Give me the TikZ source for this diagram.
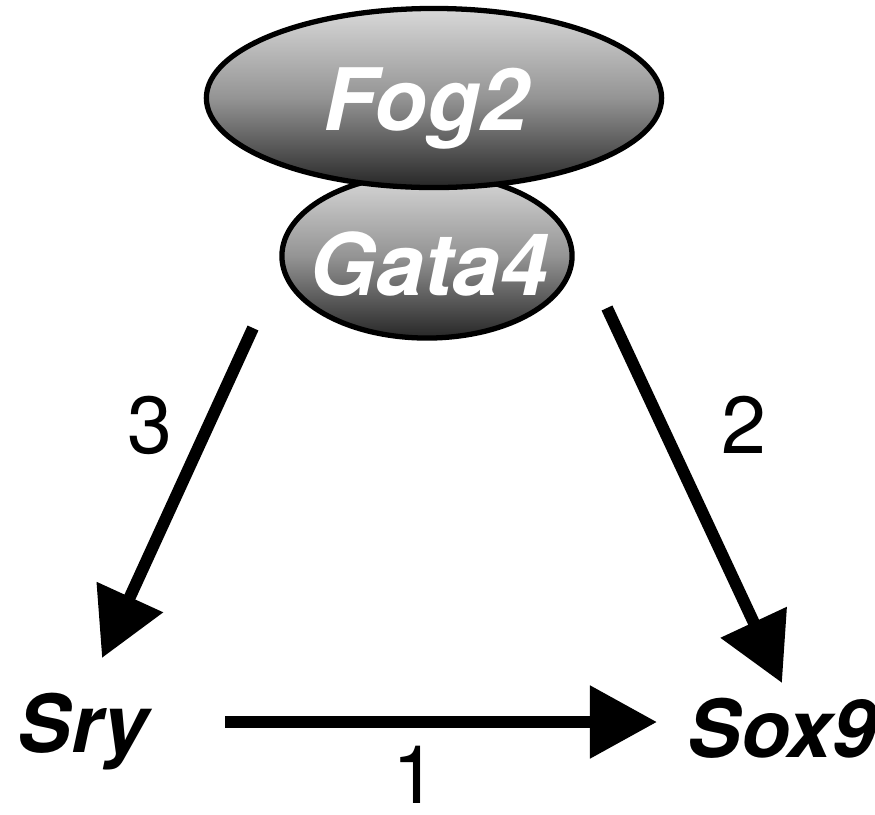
\documentclass[tikz,border=0pt]{standalone}
\usepackage{fontspec}
\setsansfont{TeX Gyre Heros}
\usetikzlibrary{arrows.meta,positioning}

\begin{document}
\begin{tikzpicture}[x = 0.01cm, y = -0.01cm,
    blob/.style = {draw = black, line width = 1.5pt,
      top color = black!15, bottom color = black!85, middle color = black!42},
    blobtext/.style = {text = white, anchor = base, inner sep = 0pt,
      font = \sffamily\bfseries\itshape\fontsize{24.5}{29}\selectfont},
    gene/.style = {font = \sffamily\bfseries\itshape\fontsize{22.8}{27}\selectfont,
      anchor = base west, inner sep = 0pt},
    num/.style = {font = \sffamily\fontsize{23}{27}\selectfont,
      anchor = base, inner sep = 0pt},
    arr/.style = {line width = 3.4pt, -{Triangle[length = 0.67cm, width = 0.70cm]}}]
  \useasboundingbox (0,0) rectangle (875,814);

  % the two proteins
  \coordinate (gata) at (427,256);
  \coordinate (fog) at (434,98);
  \shade[blob] (gata) ellipse [x radius = 1.45cm, y radius = 0.82cm];
  \node[blobtext] (gatatext) at (429,295) {Gata4};
  \shade[blob] (fog) ellipse [x radius = 2.275cm, y radius = 0.895cm];
  \node[blobtext] (fogtext) at (426,130) {Fog2};

  \node[gene] (sry) at (17,752) {Sry};
  \node[gene] (sox) at (687,757) {Sox9};

  \coordinate (g3) at (253,328);
  \coordinate (t3) at (102,658);
  \coordinate (g2) at (607,308);
  \coordinate (t2) at (782,683);
  \coordinate (s1) at (225,722);
  \coordinate (t1) at (657,722);

  \draw[arr] (g3) -- (t3);
  \draw[arr] (g2) -- (t2);
  \draw[arr] (s1) -- (t1);

  \node[num] (n3) at (150,453) {3};
  \node[num] (n2) at (744,453) {2};
  \node[num] (n1) at (415,803) {1};
\end{tikzpicture}
\end{document}
